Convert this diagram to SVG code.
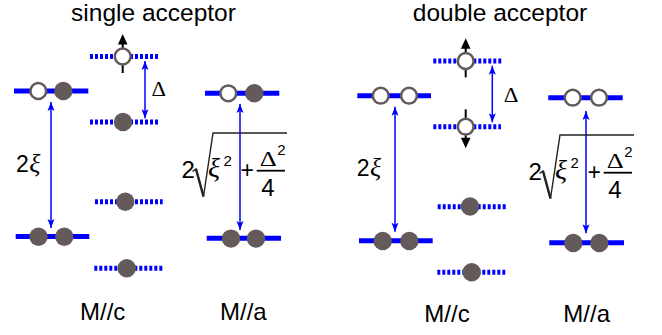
<svg xmlns="http://www.w3.org/2000/svg" width="662" height="335" viewBox="0 0 662 335">
<style>
.t{font-family:"Liberation Sans",Arial,sans-serif;fill:#000}
.s{font-family:"Liberation Serif","Times New Roman",serif;fill:#000}
.lv{stroke:#0000ff;stroke-width:5;fill:none}
.dl{stroke:#0000ff;stroke-width:5;fill:none;stroke-dasharray:3 2}
.f{fill:#645a5a;stroke:none}
.o{fill:#fff;stroke:#645a5a;stroke-width:2.5}
.ar{stroke:#0000ff;stroke-width:1.5;fill:none;marker-start:url(#bh);marker-end:url(#bh)}
.sp{stroke:#000;stroke-width:2;fill:none}
.rad{stroke:#222;stroke-width:1.4;fill:none}
</style>
<defs>
<marker id="bh" markerUnits="userSpaceOnUse" markerWidth="10" markerHeight="8" refX="9" refY="4" orient="auto-start-reverse">
<path d="M0,0.5 L9,4 L0,7.5 L2,4 z" fill="#0000ff"/>
</marker>
</defs>
<rect width="662" height="335" fill="#fff"/>

<!-- single acceptor -->
<text class="t" x="153.5" y="21" font-size="24.5" text-anchor="middle">single acceptor</text>

<g id="connectors">
<line class="ar" x1="51" y1="102" x2="51" y2="228"/>
<line class="ar" x1="145" y1="61" x2="145" y2="118.3"/>
<line class="ar" x1="240" y1="104" x2="240" y2="230"/>
<line class="ar" x1="395" y1="106.7" x2="395" y2="231.7"/>
<line class="ar" x1="492.3" y1="65.7" x2="492.3" y2="122.3"/>
<line class="ar" x1="586" y1="111" x2="586" y2="233.3"/>
</g>

<g id="s-c-upper">
<line class="lv" x1="14" y1="91" x2="88.3" y2="91"/>
<circle class="o" cx="38.3" cy="91" r="7.9"/>
<circle class="f" cx="63.3" cy="91" r="9.2"/>
</g>
<g id="s-c-lower">
<line class="lv" x1="15.7" y1="236.5" x2="89.3" y2="236.5"/>
<circle class="f" cx="38.5" cy="236.8" r="9.2"/>
<circle class="f" cx="64.3" cy="236.8" r="9.2"/>
</g>
<g id="s-2xi">
<text class="t" x="16" y="171.7" font-size="23">2<tspan class="s" font-style="italic" font-size="26" dx="0.5">ξ</tspan></text>
</g>

<g id="s-m-top">
<line class="dl" x1="90" y1="56.5" x2="158.3" y2="56.5"/>
<line class="sp" x1="122.7" y1="73" x2="122.7" y2="43"/>
<circle class="o" cx="122.7" cy="56.5" r="7.9"/>
<polygon points="122.7,34 127.5,44.5 117.9,44.5" fill="#000"/>
</g>
<g id="s-m-mid">
<line class="dl" x1="90" y1="122" x2="158" y2="122"/>
<circle class="f" cx="123" cy="122" r="9.2"/>
</g>
<g id="s-delta">
<text class="s" x="151.5" y="96" font-size="22" textLength="14.5" lengthAdjust="spacingAndGlyphs">Δ</text>
</g>
<g id="s-m-low1">
<line class="dl" x1="95" y1="201.7" x2="162.7" y2="201.7"/>
<circle class="f" cx="125.3" cy="201.7" r="9.2"/>
</g>
<g id="s-m-low2">
<line class="dl" x1="94.3" y1="268.3" x2="162.3" y2="268.3"/>
<circle class="f" cx="126.7" cy="268.3" r="9.2"/>
</g>

<g id="s-a-upper">
<line class="lv" x1="205" y1="93.3" x2="279.3" y2="93.3"/>
<circle class="o" cx="228.3" cy="93.3" r="7.9"/>
<circle class="f" cx="254.3" cy="93.3" r="9.2"/>
</g>
<g id="s-a-lower">
<line class="lv" x1="206.7" y1="238.3" x2="281" y2="238.3"/>
<circle class="f" cx="231" cy="238.6" r="9.2"/>
<circle class="f" cx="256" cy="238.6" r="9.2"/>
</g>

<g id="s-formula">
<text class="t" x="181.5" y="177.5" font-size="24">2</text>
<path class="rad" d="M192.5,171.5 L196,169 L203.5,196.5 L213,133 L287,133"/>
<path d="M196,169 L203.5,196.5" stroke="#222" stroke-width="2.4" fill="none"/>
<text class="s" x="208" y="177" font-size="28" font-style="italic">ξ</text>
<text class="t" x="223.5" y="165.5" font-size="15">2</text>
<text class="t" x="240.5" y="178" font-size="23">+</text>
<text class="s" x="259.8" y="165.6" font-size="21" textLength="17" lengthAdjust="spacingAndGlyphs">Δ</text>
<text class="t" x="277.3" y="154.7" font-size="15">2</text>
<line x1="256.7" y1="170.7" x2="285" y2="170.7" stroke="#000" stroke-width="1.8"/>
<text class="t" x="261.3" y="195.5" font-size="24">4</text>
</g>

<text class="t" x="80" y="320" font-size="24">M//c</text>
<text class="t" x="220" y="320" font-size="24">M//a</text>

<!-- double acceptor -->
<text class="t" x="500" y="21" font-size="24.5" text-anchor="middle">double acceptor</text>

<g id="d-c-upper">
<line class="lv" x1="357.3" y1="95.7" x2="431" y2="95.7"/>
<circle class="o" cx="380.7" cy="95.7" r="7.9"/>
<circle class="o" cx="409" cy="95.7" r="7.9"/>
</g>
<g id="d-c-lower">
<line class="lv" x1="359" y1="240.7" x2="432.7" y2="240.7"/>
<circle class="f" cx="382.7" cy="241" r="9.2"/>
<circle class="f" cx="409.3" cy="241" r="9.2"/>
</g>
<g id="d-2xi">
<text class="t" x="356.7" y="175.5" font-size="23">2<tspan class="s" font-style="italic" font-size="26" dx="0.5">ξ</tspan></text>
</g>

<g id="d-m-top">
<line class="dl" x1="433.3" y1="61" x2="501.7" y2="61"/>
<line class="sp" x1="465.7" y1="77.3" x2="465.7" y2="47.5"/>
<circle class="o" cx="465.7" cy="61" r="7.9"/>
<polygon points="465.7,38.3 470.5,48.8 460.9,48.8" fill="#000"/>
</g>
<g id="d-m-mid">
<line class="dl" x1="433.3" y1="126.7" x2="501" y2="126.7"/>
<line class="sp" x1="465.7" y1="109.3" x2="465.7" y2="138"/>
<circle class="o" cx="465.7" cy="126.7" r="7.9"/>
<polygon points="465.7,148.3 470.5,137.8 460.9,137.8" fill="#000"/>
</g>
<g id="d-delta">
<text class="s" x="503.8" y="102" font-size="22" textLength="14.7" lengthAdjust="spacingAndGlyphs">Δ</text>
</g>
<g id="d-m-low1">
<line class="dl" x1="437.7" y1="206.7" x2="506" y2="206.7"/>
<circle class="f" cx="470" cy="206.5" r="9.2"/>
</g>
<g id="d-m-low2">
<line class="dl" x1="437.3" y1="272.3" x2="505.7" y2="272.3"/>
<circle class="f" cx="471.7" cy="272.3" r="9.2"/>
</g>

<g id="d-a-upper">
<line class="lv" x1="548.3" y1="97.7" x2="622.7" y2="97.7"/>
<circle class="o" cx="572.7" cy="97.7" r="7.9"/>
<circle class="o" cx="599" cy="97.7" r="7.9"/>
</g>
<g id="d-a-lower">
<line class="lv" x1="549.3" y1="242.7" x2="624" y2="242.7"/>
<circle class="f" cx="573.3" cy="243" r="9.2"/>
<circle class="f" cx="599.3" cy="243" r="9.2"/>
</g>

<g id="d-formula" transform="translate(347,2)">
<text class="t" x="181.5" y="177.5" font-size="24">2</text>
<path class="rad" d="M192.5,171.5 L196,169 L203.5,196.5 L213,133 L287,133"/>
<path d="M196,169 L203.5,196.5" stroke="#222" stroke-width="2.4" fill="none"/>
<text class="s" x="208" y="177" font-size="28" font-style="italic">ξ</text>
<text class="t" x="223.5" y="165.5" font-size="15">2</text>
<text class="t" x="240.5" y="178" font-size="23">+</text>
<text class="s" x="259.8" y="165.6" font-size="21" textLength="17" lengthAdjust="spacingAndGlyphs">Δ</text>
<text class="t" x="277.3" y="154.7" font-size="15">2</text>
<line x1="256.7" y1="170.7" x2="285" y2="170.7" stroke="#000" stroke-width="1.8"/>
<text class="t" x="261.3" y="195.5" font-size="24">4</text>
</g>

<text class="t" x="424.3" y="321.7" font-size="24">M//c</text>
<text class="t" x="563.3" y="321.7" font-size="24">M//a</text>
</svg>
